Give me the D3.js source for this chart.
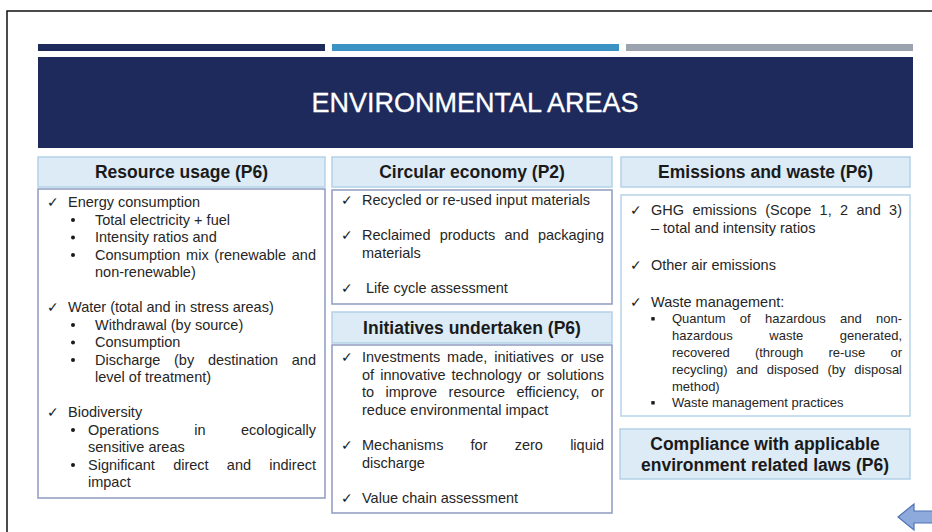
<!DOCTYPE html>
<html>
<head>
<meta charset="utf-8">
<script src="https://cdn.jsdelivr.net/npm/d3@7"></script>
<style>
  body { margin: 0; background: #fff; }
  svg text { font-family: "Liberation Sans", Arial, sans-serif; }
</style>
</head>
<body>
<div id="chart"></div>
<script>
// slide text, kept as small lists
// line kinds: c = check item, cc = check continuation, b = bullet, bc = bullet continuation, "" = blank
// third field true = justified line
var title = "ENVIRONMENTAL AREAS";
var headerLabels = ["Resource usage (P6)", "Circular economy (P2)", "Initiatives undertaken (P6)", "Emissions and waste (P6)"];
var complianceLabel = ["Compliance with applicable", "environment related laws (P6)"];
var topBarColors = ["#1e2a5c", "#3b93c4", "#9aa3ae"];

var resourceLines = [
  ["c", "Energy consumption"],
  ["b", "Total electricity + fuel"],
  ["b", "Intensity ratios and"],
  ["b", "Consumption mix (renewable and", true],
  ["bc", "non-renewable)"],
  [""],
  ["c", "Water (total and in stress areas)"],
  ["b", "Withdrawal (by source)"],
  ["b", "Consumption"],
  ["b", "Discharge (by destination and", true],
  ["bc", "level of treatment)"],
  [""],
  ["c", "Biodiversity"],
  ["s", "Operations in ecologically", true],
  ["sc", "sensitive areas"],
  ["s", "Significant direct and indirect", true],
  ["sc", "impact"]
];
var circularLines = [
  ["c", "Recycled or re-used input materials"],
  [""],
  ["c", "Reclaimed products and packaging", true],
  ["cc", "materials"],
  [""],
  ["c", " Life cycle assessment"]
];
var initiativeLines = [
  ["c", "Investments made, initiatives or use", true],
  ["cc", "of innovative technology or solutions", true],
  ["cc", "to improve resource efficiency, or", true],
  ["cc", "reduce environmental impact"],
  [""],
  ["c", "Mechanisms for zero liquid", true],
  ["cc", "discharge"],
  [""],
  ["c", "Value chain assessment"]
];
var emissionLines = [
  ["c", "GHG emissions (Scope 1, 2 and 3)", true],
  ["cc", "\u2013 total and intensity ratios"],
  [""],
  ["c", "Other air emissions"],
  [""],
  ["c", "Waste management:"],
  ["q", "Quantum of hazardous and non-", true],
  ["qc", "hazardous waste generated,", true],
  ["qc", "recovered (through re-use or", true],
  ["qc", "recycling) and disposed (by disposal", true],
  ["qc", "method)"],
  ["q", "Waste management practices"]
];

var width = 932, height = 532;
var navy = "#1e2a5c", ink = "#262626";
var headFill = "#dcebf6", headStroke = "#b4d2e7";

var svg = d3.select("#chart").append("svg")
  .attr("width", width)
  .attr("height", height);

// slide frame
svg.append("path")
  .attr("d", "M7," + height + "V11H" + width)
  .attr("fill", "none")
  .attr("stroke", "#111")
  .attr("stroke-width", 1.5);

// three bars above the title band
var barX = d3.scaleBand().domain(d3.range(topBarColors.length)).range([38, 913]).paddingInner(0.0238);
svg.selectAll(".topbar")
  .data(topBarColors)
  .enter().append("rect")
  .attr("x", function (d, i) { return barX(i); })
  .attr("y", 44)
  .attr("width", barX.bandwidth())
  .attr("height", 7)
  .attr("fill", function (d) { return d; });

svg.append("rect")
  .attr("x", 38).attr("y", 57)
  .attr("width", 875).attr("height", 91)
  .attr("fill", navy);

svg.append("text")
  .attr("x", 475).attr("y", 112)
  .attr("text-anchor", "middle")
  .attr("fill", "#fff")
  .attr("font-size", 27)
  .attr("stroke", "#fff")
  .attr("stroke-width", 0.3)
  .text(title);

function headerBox(x, y, w, h, lines) {
  svg.append("rect")
    .attr("x", x).attr("y", y)
    .attr("width", w).attr("height", h)
    .attr("fill", headFill)
    .attr("stroke", headStroke)
    .attr("stroke-width", 1.5);
  var lh = 21;
  var y0 = y + h / 2 - (lines.length - 1) * lh / 2;
  lines.forEach(function (t, i) {
    svg.append("text")
      .attr("x", x + w / 2)
      .attr("y", y0 + i * lh + 6)
      .attr("text-anchor", "middle")
      .attr("font-size", 17.5)
      .attr("font-weight", "bold")
      .attr("fill", "#1a1a1a")
      .text(t);
  });
}

// writes one line, spreading words to the right edge when justified
function writeLine(g, str, x, y, right, justify, size) {
  if (!justify) {
    g.append("text").attr("x", x).attr("y", y)
      .attr("font-size", size).attr("fill", ink)
      .attr("xml:space", "preserve")
      .text(str);
    return;
  }
  var words = str.split(" ");
  var nodes = words.map(function (w) {
    return g.append("text").attr("y", y)
      .attr("font-size", size).attr("fill", ink).text(w);
  });
  var widths = nodes.map(function (n) { return n.node().getComputedTextLength(); });
  var gap = (right - x - d3.sum(widths)) / (words.length - 1);
  var cx = x;
  nodes.forEach(function (n, i) {
    n.attr("x", cx);
    cx += widths[i] + gap;
  });
}

function bodyBox(cfg) {
  svg.append("rect")
    .attr("x", cfg.x0).attr("y", cfg.y0)
    .attr("width", cfg.x1 - cfg.x0).attr("height", cfg.y1 - cfg.y0)
    .attr("fill", "#fff")
    .attr("stroke", cfg.stroke)
    .attr("stroke-width", 1.5);
  var g = svg.append("g");
  var y = cfg.first;
  cfg.lines.forEach(function (ln, i) {
    var kind = ln[0];
    if (i > 0) y += (kind === "q" || kind === "qc") ? cfg.blh : cfg.lh;
    if (kind === "") return;
    var pos = cfg.pos[kind];
    var size = (kind === "q" || kind === "qc") ? cfg.smallFont : cfg.font;
    if (kind === "c") {
      g.append("text").attr("x", cfg.checkX).attr("y", y)
        .attr("font-family", "DejaVu Sans")
        .attr("font-size", 14).attr("fill", "#1a1a1a").text("\u2713");
    }
    if (kind === "b" || kind === "s") {
      g.append("circle").attr("cx", pos.dot).attr("cy", y - 4.5).attr("r", 2).attr("fill", "#1a1a1a");
    }
    if (kind === "q") {
      g.append("rect").attr("x", pos.dot - 1.7).attr("y", y - 6.2).attr("width", 3.4).attr("height", 3.4).attr("fill", "#1a1a1a");
    }
    writeLine(g, ln[1], pos.text, y, cfg.right, ln[2], size);
  });
}

headerBox(38, 157, 287, 30, [headerLabels[0]]);
headerBox(332, 157, 280, 30, [headerLabels[1]]);
headerBox(332, 312, 280, 31, [headerLabels[2]]);
headerBox(621, 157, 289, 30, [headerLabels[3]]);
headerBox(620, 429, 290, 50, complianceLabel);

var bodyStroke = "#8e9bc0";
bodyBox({
  lines: resourceLines, x0: 38, x1: 325, y0: 189, y1: 498, stroke: bodyStroke,
  first: 207, lh: 17.5, blh: 17.5, font: 14.5, smallFont: 14.5, checkX: 47, right: 316,
  pos: { c: { text: 68 }, cc: { text: 68 }, b: { dot: 73, text: 95 }, bc: { text: 95 },
         s: { dot: 73, text: 88 }, sc: { text: 88 } }
});
bodyBox({
  lines: circularLines, x0: 332, x1: 612, y0: 190, y1: 304, stroke: bodyStroke,
  first: 205, lh: 17.5, blh: 17.5, font: 14.5, smallFont: 14.5, checkX: 341, right: 604,
  pos: { c: { text: 362 }, cc: { text: 362 } }
});
bodyBox({
  lines: initiativeLines, x0: 332, x1: 612, y0: 345, y1: 513, stroke: bodyStroke,
  first: 362, lh: 17.6, blh: 17.6, font: 14.5, smallFont: 14.5, checkX: 341, right: 604,
  pos: { c: { text: 362 }, cc: { text: 362 } }
});
bodyBox({
  lines: emissionLines, x0: 621, x1: 910, y0: 195, y1: 416, stroke: "#b8d3e7",
  first: 215, lh: 18.3, blh: 16.8, font: 14.5, smallFont: 13, checkX: 630, right: 902,
  pos: { c: { text: 651 }, cc: { text: 651 }, q: { dot: 653, text: 672 }, qc: { text: 672 } }
});

// back arrow in the corner
var arrowPts = [[898, 517], [914, 504], [914, 511], [934, 511], [934, 523], [914, 523], [914, 530]];
svg.append("path")
  .attr("d", d3.line()(arrowPts) + "Z")
  .attr("fill", "#8eaadc")
  .attr("stroke", "#4f73b3")
  .attr("stroke-width", 1.2);
</script>
</body>
</html>
